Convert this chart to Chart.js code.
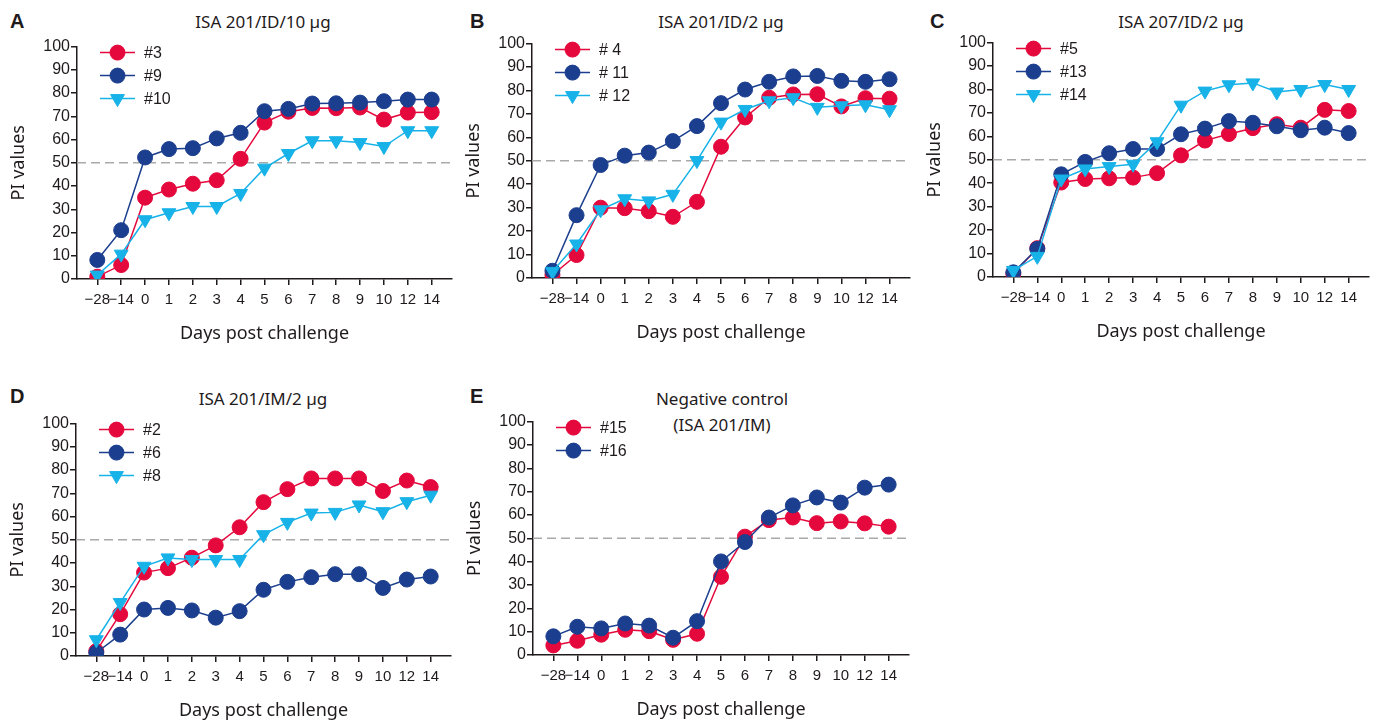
<!DOCTYPE html>
<html>
<head>
<meta charset="utf-8">
<script src="https://cdn.jsdelivr.net/npm/chart.js@4.4.1/dist/chart.umd.min.js"></script>
<style>
body { margin: 0; background: #fff; width: 1378px; height: 721px; position: relative; overflow: hidden; font-family: "Noto Sans", sans-serif; color: #1f1b1c; }
.letter { position: absolute; font-family: "Liberation Sans", Arial, sans-serif; font-weight: bold; font-size: 20px; line-height: 20px; }
.title { position: absolute; font-size: 17px; line-height: 26px; text-align: center; transform: translateX(-50%); white-space: nowrap; }
.wrap { position: absolute; }
</style>
</head>
<body>
<div class="letter" style="left:10px;top:11px">A</div>
<div class="letter" style="left:470px;top:11px">B</div>
<div class="letter" style="left:930px;top:11px">C</div>
<div class="letter" style="left:10px;top:386px">D</div>
<div class="letter" style="left:470px;top:386px">E</div>
<div class="title" style="left:263px;top:9px">ISA 201/ID/10 µg</div>
<div class="title" style="left:721px;top:9px">ISA 201/ID/2 µg</div>
<div class="title" style="left:1181px;top:9px">ISA 207/ID/2 µg</div>
<div class="title" style="left:263px;top:386px">ISA 201/IM/2 µg</div>
<div class="title" style="left:722px;top:386px">Negative control<br>(ISA 201/IM)</div>

<div class="wrap" id="wA"><canvas id="chartA"></canvas></div>
<div class="wrap" id="wB"><canvas id="chartB"></canvas></div>
<div class="wrap" id="wC"><canvas id="chartC"></canvas></div>
<div class="wrap" id="wD"><canvas id="chartD"></canvas></div>
<div class="wrap" id="wE"><canvas id="chartE"></canvas></div>

<script>
// Sampling days (x categories) and y ticks
const days = ['\u221228', '\u221214', '0', '1', '2', '3', '4', '5', '6', '7', '8', '9', '10', '12', '14'];
const yTicks = [0, 10, 20, 30, 40, 50, 60, 70, 80, 90, 100];
const cutoff = 50;

// Panel A: ISA 201/ID/10 µg
const a3  = [1, 6, 35, 38.5, 41, 42.5, 51.7, 67.3, 72, 73.6, 73.5, 73.8, 68.6, 71.6, 71.8];
const a9  = [8.2, 21, 52.3, 55.9, 56.3, 60.5, 62.9, 72.2, 73.2, 75.5, 75.6, 75.9, 76.5, 77.2, 77.2];
const a10 = [1.7, 10.7, 25.5, 28.5, 31.2, 31.2, 36.8, 47.7, 54, 59.5, 59.5, 58.7, 57, 63.8, 63.8];

// Panel B: ISA 201/ID/2 µg
const b4  = [1.3, 9.8, 30, 29.8, 28.5, 26.1, 32.5, 56, 68.5, 76.9, 78.3, 78.4, 73.2, 76.7, 76.5];
const b11 = [3.1, 26.8, 48.2, 52.2, 53.5, 58.4, 64.8, 74.6, 80.4, 83.7, 86, 86.2, 84.1, 83.7, 84.8];
const b12 = [2.8, 14.5, 29.1, 33.8, 32.9, 35.7, 50.1, 66.5, 71.9, 75.6, 76.9, 72.8, 73.5, 73.9, 71.8];

// Panel C: ISA 207/ID/2 µg
const c5  = [1.3, 12.3, 40.3, 41.8, 42.1, 42.4, 44.3, 51.9, 58.2, 61, 63.5, 65.2, 63.7, 71.3, 70.8];
const c13 = [2, 12, 43.8, 49.1, 52.8, 54.6, 54.6, 60.9, 63.3, 66.5, 65.8, 64.3, 62.6, 63.7, 61.4];
const c14 = [2.8, 8.8, 41.8, 46.1, 47.1, 48.1, 57.7, 73.3, 79.3, 82, 82.8, 78.9, 80, 82.1, 80];

// Panel D: ISA 201/IM/2 µg
const d2 = [2.1, 18, 35.9, 37.8, 42.3, 47.6, 55.4, 66.2, 71.8, 76.4, 76.4, 76.4, 71, 75.5, 72.7];
const d6 = [1.4, 9.2, 20, 20.7, 19.6, 16.5, 19.3, 28.5, 31.9, 33.9, 35.2, 35.2, 29.3, 32.9, 34.2];
const d8 = [7, 23, 38.6, 42.2, 41.5, 41.5, 41.5, 52.2, 57.5, 61.5, 61.8, 65, 62.1, 66.4, 69.2];

// Panel E: negative control
const e15 = [4.1, 6.1, 8.7, 10.8, 10.2, 6.5, 9.1, 33.5, 50.7, 57.8, 58.9, 56.5, 57.2, 56.4, 55];
const e16 = [8, 12.1, 11.4, 13.5, 12.6, 7.4, 14.5, 40.1, 48.4, 58.9, 64.1, 67.5, 65.3, 71.7, 73];

const RED = '#e4083c';
const NAVY = '#1b3e8e';
const CYAN = '#17b2e8';
const INK = '#1f1b1c';

// dashed 50% line
const cutoffPlugin = {
    id: 'cutoffLine',
    beforeDatasetsDraw(chart) {
        const { ctx, chartArea, scales } = chart;
        const y = scales.y.getPixelForValue(cutoff);
        ctx.save();
        ctx.strokeStyle = '#a9a9a9';
        ctx.lineWidth = 1.5;
        ctx.setLineDash([9, 5]);
        ctx.beginPath();
        ctx.moveTo(chartArea.left, y);
        ctx.lineTo(chartArea.right, y);
        ctx.stroke();
        ctx.restore();
    }
};

// legend drawn as line + marker, inside the plot
const lineLegend = {
    id: 'lineLegend',
    afterDraw(chart) {
        const { ctx, chartArea } = chart;
        chart.data.datasets.forEach((ds, i) => {
            const x0 = chartArea.left + 23;
            const y = chartArea.top + 6 + i * 23;
            ctx.save();
            ctx.strokeStyle = ds.borderColor;
            ctx.fillStyle = ds.pointBackgroundColor;
            ctx.lineWidth = ds.borderWidth;
            ctx.beginPath();
            ctx.moveTo(x0, y);
            ctx.lineTo(x0 + 35, y);
            ctx.stroke();
            ctx.lineWidth = 1;
            Chart.helpers.drawPoint(ctx, {
                pointStyle: ds.pointStyle,
                radius: ds.pointRadius,
                rotation: ds.pointRotation || 0,
                borderWidth: 1
            }, x0 + 17.5, y);
            ctx.fillStyle = INK;
            ctx.font = '16px "Liberation Sans", Arial, sans-serif';
            ctx.textBaseline = 'middle';
            ctx.fillText(ds.label, x0 + 44, y + 1);
            ctx.restore();
        });
    }
};

function makeSeries(label, values, color, triangle) {
    return {
        label: label,
        data: values.map((v, i) => ({ x: i, y: v })),
        borderColor: color,
        backgroundColor: color,
        pointBackgroundColor: color,
        pointBorderColor: color,
        borderWidth: 1.5,
        pointStyle: triangle ? 'triangle' : 'circle',
        pointRotation: triangle ? 180 : 0,
        pointRadius: triangle ? 8 : 7.5,
        pointBorderWidth: 1,
        tension: 0
    };
}

const Y_W = 77, X_H = 68, PAD_T = 10, PAD_R = 12;

function makePanel(id, box, series) {
    const wrap = document.getElementById('w' + id);
    const w = box.right - box.left + Y_W + PAD_R;
    const h = box.bottom - box.top + PAD_T + X_H;
    wrap.style.left = (box.left - Y_W) + 'px';
    wrap.style.top = (box.top - PAD_T) + 'px';
    wrap.style.width = w + 'px';
    wrap.style.height = h + 'px';
    const canvas = document.getElementById('chart' + id);
    canvas.width = w;
    canvas.height = h;

    const datasets = series.map((s, i) => Object.assign(s, { order: series.length - i }));

    new Chart(canvas.getContext('2d'), {
        type: 'line',
        data: { datasets: datasets },
        plugins: [cutoffPlugin, lineLegend],
        options: {
            responsive: false,
            animation: false,
            layout: { padding: { top: PAD_T, right: PAD_R, left: 0, bottom: 0 } },
            plugins: { legend: { display: false }, tooltip: { enabled: false } },
            scales: {
                x: {
                    type: 'linear',
                    min: -0.85,
                    max: 14.85,
                    afterBuildTicks: (scale) => { scale.ticks = days.map((d, i) => ({ value: i })); },
                    afterFit: (scale) => { scale.height = X_H; },
                    grid: { drawOnChartArea: false, drawTicks: true, tickLength: 6, color: INK, lineWidth: 1.5 },
                    border: { display: true, color: INK, width: 1.5 },
                    ticks: {
                        autoSkip: false,
                        maxRotation: 0,
                        padding: 6,
                        color: INK,
                        font: { family: '"Liberation Sans", Arial, sans-serif', size: 15 },
                        callback: (v) => days[v]
                    },
                    title: {
                        display: true,
                        text: 'Days post challenge',
                        color: INK,
                        font: { family: '"Noto Sans", sans-serif', size: 18 },
                        padding: { top: 0, bottom: 2 }
                    }
                },
                y: {
                    min: 0,
                    max: 100,
                    afterBuildTicks: (scale) => { scale.ticks = yTicks.map(v => ({ value: v })); },
                    afterFit: (scale) => { scale.width = Y_W; },
                    grid: { drawOnChartArea: false, drawTicks: true, tickLength: 6, color: INK, lineWidth: 1.5 },
                    border: { display: true, color: INK, width: 1.5 },
                    ticks: {
                        padding: 1,
                        color: INK,
                        font: { family: '"Liberation Sans", Arial, sans-serif', size: 16 }
                    },
                    title: {
                        display: true,
                        text: 'PI values',
                        color: INK,
                        font: { family: '"Noto Sans", sans-serif', size: 18 },
                        padding: { top: 8, bottom: 0 }
                    }
                }
            }
        }
    });
}

makePanel('A', { left: 77, top: 46, right: 452, bottom: 279 }, [
    makeSeries('#3', a3, RED, false),
    makeSeries('#9', a9, NAVY, false),
    makeSeries('#10', a10, CYAN, true)
]);
makePanel('B', { left: 532, top: 43, right: 910, bottom: 278 }, [
    makeSeries('# 4', b4, RED, false),
    makeSeries('# 11', b11, NAVY, false),
    makeSeries('# 12', b12, CYAN, true)
]);
makePanel('C', { left: 993, top: 42, right: 1369, bottom: 277 }, [
    makeSeries('#5', c5, RED, false),
    makeSeries('#13', c13, NAVY, false),
    makeSeries('#14', c14, CYAN, true)
]);
makePanel('D', { left: 76, top: 423, right: 451, bottom: 656 }, [
    makeSeries('#2', d2, RED, false),
    makeSeries('#6', d6, NAVY, false),
    makeSeries('#8', d8, CYAN, true)
]);
makePanel('E', { left: 533, top: 421, right: 909, bottom: 655 }, [
    makeSeries('#15', e15, RED, false),
    makeSeries('#16', e16, NAVY, false)
]);
</script>
</body>
</html>
